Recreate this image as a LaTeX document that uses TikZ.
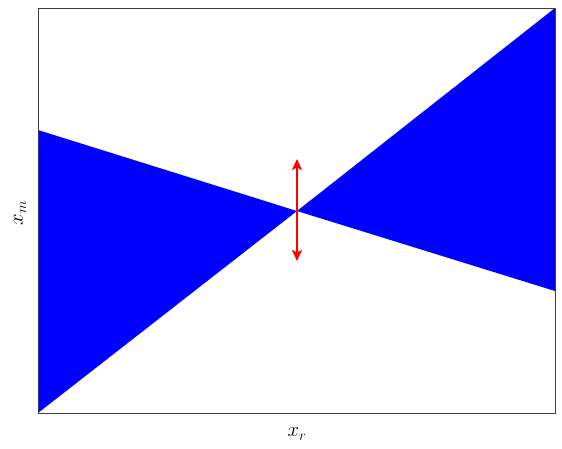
\documentclass[tikz,border=0pt]{standalone}
\usetikzlibrary{arrows.meta}
\begin{document}
\begin{tikzpicture}[x=1pt,y=-1pt,
  region/.style={fill={rgb,255:red,0;green,0;blue,255},draw=none},
  frame/.style={draw=black!75,line width=0.9pt},
  redarrow/.style={draw=red,line width=2.4pt,{Stealth[length=11pt,width=10pt,inset=2.5pt]}-{Stealth[length=11pt,width=10pt,inset=2.5pt]}},
  axlabel/.style={font=\fontsize{21}{25}\selectfont}]
\useasboundingbox (0,0) rectangle (562,448);
\coordinate (c) at (297,211);
\coordinate (ll) at (38,130);
\coordinate (lb) at (38,413);
\coordinate (rt) at (555,8);
\coordinate (rb) at (555,291);
\fill[region] (ll) -- (c) -- (lb) -- cycle;
\fill[region] (rt) -- (c) -- (rb) -- cycle;
\draw[frame] (38,8) rectangle (555,413);
\coordinate (at) at (297,159);
\coordinate (ab) at (297,261);
\draw[redarrow] (at) -- (ab);
\node[axlabel,rotate=90] (ym) at (20,213) {$x_m$};
\node[axlabel] (xr) at (297,434) {$x_r$};
\end{tikzpicture}
\end{document}
